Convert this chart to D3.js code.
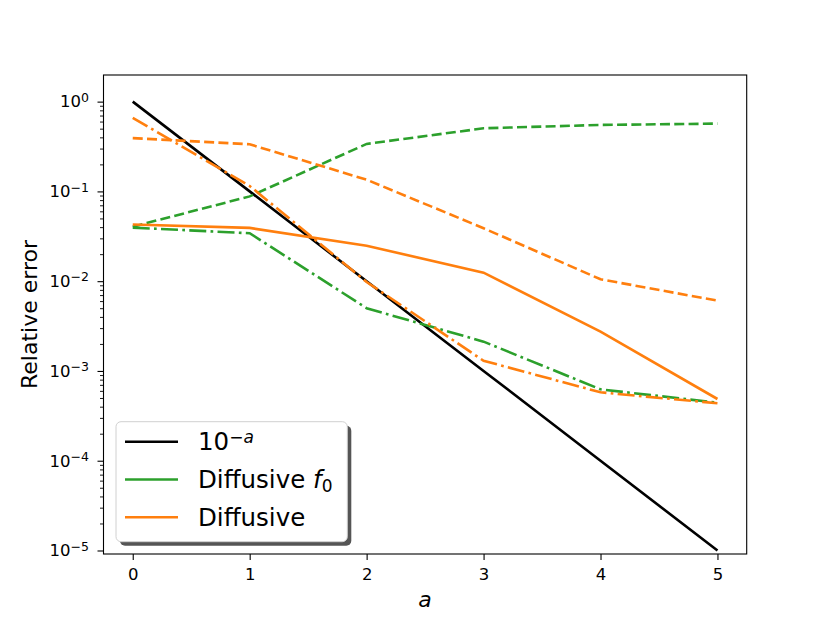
<!DOCTYPE html>
<html>
<head>
<meta charset="utf-8">
<script src="https://cdn.jsdelivr.net/npm/d3@7"></script>
<style>
  body { margin: 0; background: #fff; }
  svg { font-family: "DejaVu Sans", sans-serif; }
</style>
</head>
<body>
<svg width="830" height="623"></svg>
<script>
// values
const a = [0, 1, 2, 3, 4, 5];
const reference = [1, 0.1, 0.01, 0.001, 0.0001, 0.00001]; // 10^-a
const f0Dashed = [0.0405, 0.088, 0.338, 0.505, 0.55, 0.569];
const f0DashDot = [0.0395, 0.0342, 0.005, 0.00212, 0.000624, 0.000443];
const diffDashed = [0.392, 0.335, 0.135, 0.0389, 0.0105, 0.00607];
const diffSolid = [0.0428, 0.0392, 0.0248, 0.01245, 0.00274, 0.000487];
const diffDashDot = [0.66, 0.115, 0.0098, 0.0013, 0.000578, 0.000436];
const xTicks = [0, 1, 2, 3, 4, 5];
const yTicks = [1e-5, 1e-4, 1e-3, 1e-2, 1e-1, 1e0];

const green = '#2ca02c', orange = '#ff7f0e';
const DASHED = '10,4.3', DASHDOT = '17,4.3,2.7,4.3';
const FONT = '"DejaVu Sans", sans-serif';

const svg = d3.select('svg');
const plotLeft = 103.5, plotRight = 746.7, plotTop = 75, plotBottom = 554;

const x = d3.scaleLinear().domain([-0.25, 5.25]).range([plotLeft, plotRight]);
const y = d3.scaleLog().domain([9.14e-6, 1.98]).range([plotBottom, plotTop]);

// minor ticks 2..9 x 10^k inside the domain
const minor = [];
for (let k = -6; k <= 0; k++) {
  for (let m = 2; m <= 9; m++) {
    const v = m * Math.pow(10, k);
    if (v >= y.domain()[0] && v <= y.domain()[1]) minor.push(v);
  }
}

// x axis
const gx = svg.append('g')
  .attr('transform', `translate(0,${plotBottom})`)
  .call(d3.axisBottom(x).tickValues(xTicks).tickSize(6).tickPadding(8).tickFormat(d3.format('d')))
  .attr('font-size', 16.5)
  .attr('font-family', FONT);
gx.select('.domain').remove();
gx.selectAll('.tick line').attr('stroke-width', 1.1);

// y axis, major ticks with superscript exponents
const gy = svg.append('g')
  .attr('transform', `translate(${plotLeft},0)`)
  .call(d3.axisLeft(y).tickValues(yTicks).tickSize(6).tickPadding(8.5).tickFormat(''))
  .attr('font-size', 16.5)
  .attr('font-family', FONT);
gy.select('.domain').remove();
gy.selectAll('.tick line').attr('stroke-width', 1.1);
gy.selectAll('.tick text').each(function(d) {
  const t = d3.select(this);
  const e = Math.round(Math.log10(d));
  t.text(null);
  t.append('tspan').text('10');
  t.append('tspan')
    .attr('dy', '-0.45em')
    .attr('font-size', '12.5px')
    .text(e === 0 ? '0' : '\u2212' + Math.abs(e));
});

// y minor ticks
const gyMinor = svg.append('g')
  .attr('transform', `translate(${plotLeft},0)`)
  .call(d3.axisLeft(y).tickValues(minor).tickSize(3.5).tickFormat(''));
gyMinor.select('.domain').remove();
gyMinor.selectAll('.tick line').attr('stroke-width', 0.9);

// lines
const line = d3.line()
  .x((d, i) => x(a[i]))
  .y(d => y(d));

const series = [
  { values: reference, color: '#000', dash: null },
  { values: f0Dashed, color: green, dash: DASHED },
  { values: f0DashDot, color: green, dash: DASHDOT },
  { values: diffDashed, color: orange, dash: DASHED },
  { values: diffSolid, color: orange, dash: null },
  { values: diffDashDot, color: orange, dash: DASHDOT }
];

svg.append('g')
  .selectAll('path')
  .data(series)
  .enter()
  .append('path')
  .attr('d', d => line(d.values))
  .attr('fill', 'none')
  .attr('stroke', d => d.color)
  .attr('stroke-width', 2.6)
  .attr('stroke-dasharray', d => d.dash);

// frame
svg.append('rect')
  .attr('x', plotLeft).attr('y', plotTop)
  .attr('width', plotRight - plotLeft).attr('height', plotBottom - plotTop)
  .attr('fill', 'none')
  .attr('stroke', '#000')
  .attr('stroke-width', 1.1);

// axis labels
svg.append('text')
  .attr('x', (plotLeft + plotRight) / 2)
  .attr('y', 607)
  .attr('text-anchor', 'middle')
  .attr('font-size', '22px')
  .attr('font-style', 'italic')
  .text('a');

svg.append('text')
  .attr('transform', `translate(36.5,${(plotTop + plotBottom) / 2}) rotate(-90)`)
  .attr('text-anchor', 'middle')
  .attr('font-size', '22px')
  .text('Relative error');

// legend
const legend = svg.append('g');
const lx = 116, ly = 421.7, lw = 231.3, lh = 120;
legend.append('rect')
  .attr('x', lx + 4).attr('y', ly + 4)
  .attr('width', lw).attr('height', lh)
  .attr('rx', 5)
  .attr('fill', '#555');
legend.append('rect')
  .attr('x', lx).attr('y', ly)
  .attr('width', lw).attr('height', lh)
  .attr('rx', 5)
  .attr('fill', '#fff')
  .attr('stroke', '#d0d0d0')
  .attr('stroke-width', 1);

const legendItems = [
  { color: '#000', label: 'ref' },
  { color: green, label: 'Diffusive', sub: '0', f: true },
  { color: orange, label: 'Diffusive' }
];

const rows = legend.selectAll('g.item')
  .data(legendItems)
  .enter()
  .append('g')
  .attr('class', 'item')
  .attr('transform', (d, i) => `translate(0,${441.7 + i * 37.8})`);

rows.append('line')
  .attr('x1', 125).attr('x2', 178)
  .attr('stroke', d => d.color)
  .attr('stroke-width', 2.6);

rows.each(function(d) {
  const t = d3.select(this).append('text')
    .attr('x', 198)
    .attr('y', 8.7)
    .attr('font-size', '24.5px');
  if (d.label === 'ref') {
    t.append('tspan').text('10');
    t.append('tspan').attr('dy', '-0.45em').attr('font-size', '17px').text('\u2212');
    t.append('tspan').attr('font-size', '17px').attr('font-style', 'italic').text('a');
  } else if (d.f) {
    t.append('tspan').text(d.label + ' ');
    t.append('tspan').attr('font-style', 'italic').text('f');
    t.append('tspan').attr('dy', '0.25em').attr('font-size', '17px').text(d.sub);
  } else {
    t.text(d.label);
  }
});
</script>
</body>
</html>
